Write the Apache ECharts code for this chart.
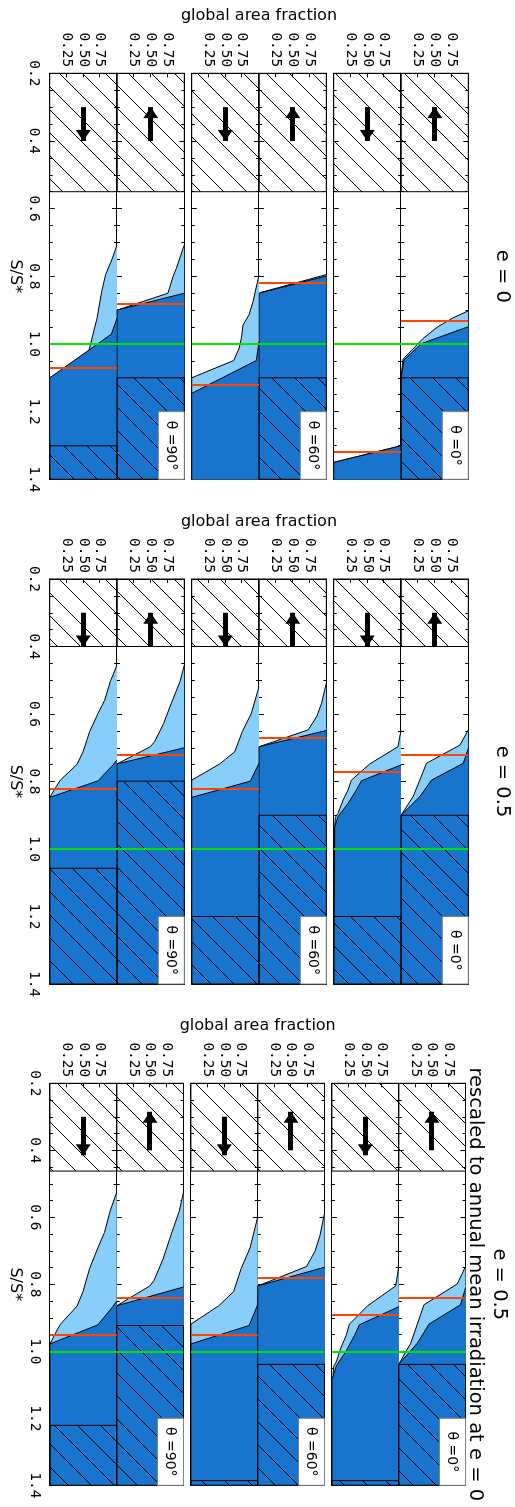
<!DOCTYPE html>
<html>
<head>
<meta charset="utf-8">
<script src="https://cdn.jsdelivr.net/npm/echarts@6/dist/echarts.min.js"></script>
<style>
html,body{margin:0;padding:0;background:#fff;overflow:hidden;width:515px;height:1507px}
#chart{position:absolute;left:0;top:0;width:1507px;height:515px;transform-origin:0 0;transform:translate(515px,0) rotate(90deg)}
</style>
</head>
<body>
<div id="chart"></div>
<script>
// Ice-state diagrams: global area fraction versus S/S* for three orbital settings.
// Each column holds six panels (theta = 0, 60, 90 deg; decreasing / increasing S branch).
// Curves give the lower edge of the light-blue (thin ice) and dark-blue (open water) areas.

const S_MIN = 0.2, S_MAX = 1.4;
const fractionTicks = [0.25, 0.5, 0.75];
const blockTitles = ['e = 0', 'e = 0.5', 'e = 0.5', 'rescaled to annual mean irradiation at e = 0'];
const thetaLabels = ['\u03b8 =0\u00b0', '\u03b8 =60\u00b0', '\u03b8 =90\u00b0'];

// ---- e = 0 ----
const lightE0 = [
  [[0.902,1],[0.924,0.76],[0.95,0.54],[0.985,0.32],[1.0,0.25],[1.045,0.03],[1.1,0],[1.4,0]],
  [[1.301,1],[1.35,0],[1.4,0]],
  [[0.795,1],[0.848,0.02],[0.85,0],[1.4,0]],
  [[0.796,1],[0.875,0.911],[0.914,0.851],[0.944,0.762],[0.983,0.738],[1.013,0.703],[1.049,0.624],[1.1,0],[1.4,0]],
  [[0.707,1],[0.777,0.881],[0.801,0.832],[0.85,0.757],[0.9,0],[1.4,0]],
  [[0.707,1],[0.747,0.931],[0.794,0.832],[0.845,0.772],[0.924,0.703],[1.018,0.584],[1.049,0.455],[1.1,0],[1.4,0]]
];
const darkE0 = [
  [[0.949,1],[0.999,0.303],[1.047,0.045],[1.1,0],[1.4,0]],
  [[1.301,1],[1.35,0],[1.4,0]],
  [[0.799,1],[0.85,0],[1.4,0]],
  [[0.993,1],[1.049,0.96],[1.146,0],[1.4,0]],
  [[0.85,1],[0.9,0],[1.4,0]],
  [[0.924,1],[0.971,0.916],[1.1,0],[1.4,0]]
];
const redE0 = [0.926, 1.324, 0.825, 1.124, 0.875, 1.075];
const hatchE0 = [1.1, null, 1.1, null, 1.1, 1.301];
const noStateE0 = 0.55;
const arrowUpE0 = [0.4, 0.3];
const arrowDownE0 = [0.3, 0.4];

// ---- e = 0.5 ----
const lightE05 = [
  [[0.647,1],[0.692,0.876],[0.746,0.378],[0.796,0.279],[0.845,0.179],[0.9,0],[1.4,0]],
  [[0.647,1],[0.697,0.955],[0.748,0.535],[0.796,0.262],[0.825,0.213],[0.855,0.139],[0.894,0.064],[0.906,0.025],[0.934,0.015],[0.939,0],[1.4,0]],
  [[0.509,1],[0.568,0.93],[0.608,0.856],[0.647,0.731],[0.697,0],[1.4,0]],
  [[0.519,1],[0.598,0.886],[0.652,0.752],[0.712,0.639],[0.748,0.416],[0.796,0],[1.4,0]],
  [[0.455,1],[0.504,0.936],[0.568,0.807],[0.628,0.693],[0.682,0.559],[0.697,0.495],[0.748,0],[1.4,0]],
  [[0.455,1],[0.504,0.9],[0.559,0.817],[0.598,0.718],[0.652,0.594],[0.712,0.495],[0.749,0.406],[0.796,0.158],[0.811,0.109],[0.847,0],[1.4,0]]
];
const darkE05 = [
  [[0.702,1],[0.746,0.925],[0.796,0.453],[0.845,0.279],[0.9,0],[1.4,0]],
  [[0.751,1],[0.798,0.411],[0.825,0.337],[0.865,0.213],[0.904,0.064],[0.934,0.015],[0.939,0],[1.4,0]],
  [[0.649,1],[0.697,0],[1.4,0]],
  [[0.746,1],[0.799,0.871],[0.847,0],[1.4,0]],
  [[0.7,1],[0.748,0],[1.4,0]],
  [[0.736,1],[0.751,0.941],[0.798,0.718],[0.847,0],[1.4,0]]
];
const redE05 = [0.724, 0.774, 0.674, 0.824, 0.725, 0.824];
const hatchE05 = [0.9, 1.2, 0.9, 1.2, 0.799, 1.057];
const noStateE05 = 0.4;
const arrowUpE05 = [0.4, 0.3];
const arrowDownE05 = [0.3, 0.4];

// ---- e = 0.5, rescaled to annual mean irradiation at e = 0 ----
const lightE05R = [
  [[0.747,1],[0.799,0.876],[0.861,0.378],[0.919,0.279],[0.976,0.179],[1.039,0],[1.4,0]],
  [[0.747,1],[0.805,0.955],[0.864,0.535],[0.919,0.262],[0.953,0.213],[0.987,0.139],[1.032,0.064],[1.046,0.025],[1.078,0.015],[1.084,0],[1.4,0]],
  [[0.588,1],[0.656,0.93],[0.702,0.856],[0.747,0.731],[0.805,0],[1.4,0]],
  [[0.599,1],[0.691,0.886],[0.753,0.752],[0.822,0.639],[0.864,0.416],[0.919,0],[1.4,0]],
  [[0.525,1],[0.582,0.936],[0.656,0.807],[0.725,0.693],[0.788,0.559],[0.805,0.495],[0.864,0],[1.4,0]],
  [[0.525,1],[0.582,0.9],[0.645,0.817],[0.691,0.718],[0.753,0.594],[0.822,0.495],[0.865,0.406],[0.919,0.158],[0.936,0.109],[0.978,0],[1.4,0]]
];
const darkE05R = [
  [[0.811,1],[0.861,0.925],[0.919,0.453],[0.976,0.279],[1.039,0],[1.4,0]],
  [[0.867,1],[0.921,0.411],[0.953,0.337],[0.999,0.213],[1.044,0.064],[1.078,0.015],[1.084,0],[1.4,0]],
  [[0.749,1],[0.805,0],[1.4,0]],
  [[0.861,1],[0.923,0.871],[0.978,0],[1.4,0]],
  [[0.808,1],[0.864,0],[1.4,0]],
  [[0.85,1],[0.867,0.941],[0.921,0.718],[0.978,0],[1.4,0]]
];
const redE05R = [0.836, 0.894, 0.778, 0.951, 0.837, 0.951];
const hatchE05R = [1.039, 1.386, 1.039, 1.386, 0.923, 1.221];
const noStateE05R = 0.462;
const arrowUpE05R = [0.4, 0.285];
const arrowDownE05R = [0.3, 0.415];

// ---- styling and layout ----
const LIGHT = '#87CEFA', DARK = '#1874CD', RED = '#FF4500', GREEN = '#00E400';
const MONO = 'DejaVu Sans Mono', SANS = 'DejaVu Sans';
const blockLeft = [73.3, 579, 1083.3];
const blockWidth = [406, 405, 402];
const blockTop = [46.7, 46.7, 49.5];
const panelH = [67.3, 67.3, 66.8];
const pairGap = 7.4;

const blocks = [
  {light: lightE0, dark: darkE0, red: redE0, hatch: hatchE0, noState: noStateE0, up: arrowUpE0, down: arrowDownE0},
  {light: lightE05, dark: darkE05, red: redE05, hatch: hatchE05, noState: noStateE05, up: arrowUpE05, down: arrowDownE05},
  {light: lightE05R, dark: darkE05R, red: redE05R, hatch: hatchE05R, noState: noStateE05R, up: arrowUpE05R, down: arrowDownE05R}
];

// diagonal hatch tile
function hatchTile() {
  const T = 23;
  const c = document.createElement('canvas');
  c.width = T; c.height = T;
  const ctx = c.getContext('2d');
  ctx.strokeStyle = '#000';
  ctx.lineWidth = 1;
  ctx.beginPath();
  ctx.moveTo(0, T); ctx.lineTo(T, 0);
  ctx.moveTo(-2, 2); ctx.lineTo(2, -2);
  ctx.moveTo(T - 2, T + 2); ctx.lineTo(T + 2, T - 2);
  ctx.stroke();
  return c;
}
const hatchPattern = {image: hatchTile(), repeat: 'repeat'};

function xAx(gi, pos, labels) {
  return {
    gridIndex: gi, type: 'value', position: pos, min: S_MIN, max: S_MAX, interval: 0.2,
    axisLine: {show: true, onZero: false, lineStyle: {color: '#000', width: 1}},
    axisTick: {show: true, inside: true, length: 5, lineStyle: {color: '#000', width: 1}},
    minorTick: {show: true, splitNumber: 4, length: 3, lineStyle: {color: '#000', width: 1}},
    splitLine: {show: false}, minorSplitLine: {show: false},
    axisLabel: {show: labels, margin: 8, color: '#000', fontFamily: MONO, fontSize: 14.5,
      showMinLabel: true, showMaxLabel: true, formatter: v => v.toFixed(1)}
  };
}
function yAx(gi, pos, labels) {
  return {
    gridIndex: gi, type: 'value', position: pos, min: 0, max: 1, interval: 0.25,
    axisLine: {show: true, onZero: false, lineStyle: {color: '#000', width: 1}},
    axisTick: {show: true, inside: true, length: 4, lineStyle: {color: '#000', width: 1}},
    splitLine: {show: false},
    axisLabel: {show: labels, margin: 6, color: '#000', fontFamily: MONO, fontSize: 14.5,
      formatter: v => fractionTicks.some(t => Math.abs(t - v) < 1e-6) ? v.toFixed(2) : ''}
  };
}

const option = {animation: false, backgroundColor: '#fff', grid: [], xAxis: [], yAxis: [], series: []};

blocks.forEach((b, bi) => {
  for (let pi = 0; pi < 6; pi++) {
    const gi = bi * 6 + pi;
    const top = blockTop[bi] + pi * panelH[bi] + Math.floor(pi / 2) * pairGap;
    option.grid.push({left: blockLeft[bi], top: top, width: blockWidth[bi], height: panelH[bi], outerBoundsMode: 'none'});
    option.xAxis.push(xAx(gi, 'bottom', pi === 5), xAx(gi, 'top', false));
    option.yAxis.push(yAx(gi, 'left', true), yAx(gi, 'right', false));
    const ax = {xAxisIndex: 2 * gi, yAxisIndex: 2 * gi};

    option.series.push({type: 'line', ...ax, data: b.light[pi], symbol: 'none', silent: true, z: 2,
      lineStyle: {color: '#000', width: 1}, areaStyle: {color: LIGHT, opacity: 1, origin: 'end'}});
    option.series.push({type: 'line', ...ax, data: b.dark[pi], symbol: 'none', silent: true, z: 3,
      lineStyle: {color: '#000', width: 1}, areaStyle: {color: DARK, opacity: 1, origin: 'end'}});

    const areas = [[{xAxis: S_MIN}, {xAxis: b.noState}]];
    if (b.hatch[pi] !== null) areas.push([{xAxis: b.hatch[pi]}, {xAxis: S_MAX}]);
    option.series.push({type: 'line', ...ax, data: [], silent: true, z: 4,
      markArea: {silent: true, z: 8, label: {show: false},
        itemStyle: {color: hatchPattern, borderColor: '#000', borderWidth: 1},
        data: areas}});

    option.series.push({type: 'line', ...ax, data: [], silent: true, z: 5,
      markLine: {silent: true, z: 9, symbol: 'none', label: {show: false}, emphasis: {disabled: true},
        data: [
          {xAxis: 1.0, lineStyle: {color: GREEN, width: 2, type: 'solid'}},
          {xAxis: b.red[pi], lineStyle: {color: RED, width: 2, type: 'solid'}}
        ]}});

    const arr = pi % 2 === 0 ? b.up : b.down;
    option.series.push({type: 'line', ...ax, data: [], silent: true, z: 6,
      markLine: {silent: true, z: 10, label: {show: false}, emphasis: {disabled: true},
        symbol: ['none', 'triangle'], symbolSize: [0, 14],
        lineStyle: {color: '#000', width: 5, type: 'solid'},
        data: [[
          {coord: [arr[0], 0.5], symbol: 'none'},
          {coord: [arr[1], 0.5], symbol: 'triangle', symbolSize: [15, 11], symbolOffset: [0, 5.5],
            itemStyle: {color: '#000'}}
        ]]}});
  }
});

const chart = echarts.init(document.getElementById('chart'), null, {renderer: 'canvas', width: 1507, height: 515});
chart.setOption(option);

// titles, axis names and theta boxes
const graphics = [];
const titleY = [13.3, 13.3, 16.2];
blocks.forEach((b, bi) => {
  const cx = blockLeft[bi] + blockWidth[bi] / 2;
  const panelsTop = blockTop[bi];
  const panelsBottom = blockTop[bi] + 6 * panelH[bi] + 2 * pairGap;
  graphics.push({type: 'text', x: cx, y: titleY[bi], z: 50,
    style: {text: blockTitles[bi], fontFamily: SANS, fontSize: 19.5, fill: '#000', textAlign: 'center', textVerticalAlign: 'middle'}});
  graphics.push({type: 'text', x: blockLeft[bi] - 57.5, y: (panelsTop + panelsBottom) / 2, rotation: Math.PI / 2, z: 50,
    style: {text: 'global area fraction', fontFamily: SANS, fontSize: 16, fill: '#000', textAlign: 'center', textVerticalAlign: 'middle'}});
  graphics.push({type: 'text', x: cx, y: 500, z: 50,
    style: {text: 'S/S*', fontFamily: SANS, fontSize: 16, fill: '#000', textAlign: 'center', textVerticalAlign: 'middle'}});
  [0, 2, 4].forEach((pi, k) => {
    const gi = bi * 6 + pi;
    const tr = chart.convertToPixel({xAxisIndex: 2 * gi, yAxisIndex: 2 * gi}, [S_MAX, 1]);
    const bl = chart.convertToPixel({xAxisIndex: 2 * gi, yAxisIndex: 2 * gi}, [1.2, 1]);
    const w = tr[0] - bl[0], h = 26;
    graphics.push({type: 'rect', x: bl[0], y: tr[1], z: 60, shape: {x: 0, y: 0, width: w, height: h},
      style: {fill: '#fff', stroke: '#808080', lineWidth: 1}});
    graphics.push({type: 'text', x: bl[0] + w / 2, y: tr[1] + h / 2 + 0.5, z: 61,
      style: {text: thetaLabels[k], fontFamily: SANS, fontSize: 14, fill: '#000', textAlign: 'center', textVerticalAlign: 'middle'}});
  });
});
graphics.push({type: 'text', x: blockLeft[2] + blockWidth[2] / 2, y: 40.2, z: 50,
  style: {text: blockTitles[3], fontFamily: SANS, fontSize: 19.5, fill: '#000', textAlign: 'center', textVerticalAlign: 'middle'}});
chart.setOption({graphic: graphics});
</script>
</body>
</html>
